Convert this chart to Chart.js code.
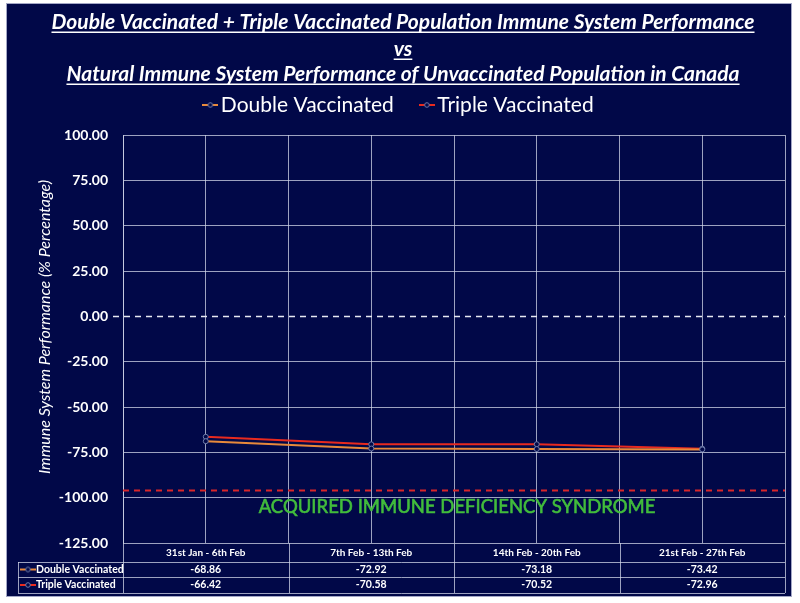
<!DOCTYPE html>
<html>
<head>
<meta charset="utf-8">
<script src="https://cdn.jsdelivr.net/npm/chart.js@4.4.1/dist/chart.umd.min.js"></script>
<style>
  html, body { margin: 0; padding: 0; background: #fff; }
  canvas { display: block; }
</style>
</head>
<body>
<canvas id="chart" width="800" height="603"></canvas>
<script>
// data
const weeks = ['31st Jan - 6th Feb', '7th Feb - 13th Feb', '14th Feb - 20th Feb', '21st Feb - 27th Feb'];
const doubleVaccinated = [-68.86, -72.92, -73.18, -73.42];
const tripleVaccinated = [-66.42, -70.58, -70.52, -72.96];
const seriesNames = ['Double Vaccinated', 'Triple Vaccinated'];
const titleLines = [
    'Double Vaccinated + Triple Vaccinated Population Immune System Performance',
    'vs',
    'Natural Immune System Performance of Unvaccinated Population in Canada'
];
const yTitle = 'Immune System Performance (% Percentage)';
const aidsText = 'ACQUIRED IMMUNE DEFICIENCY SYNDROME';
const aidsLevel = -96;
const aidsTextLevel = -105;

const NAVY = '#010848';
const ORANGE = '#e8893b';
const RED = '#e82a1f';
const GRID = 'rgba(210, 213, 232, 0.75)';
const POINT_BORDER = '#6f7cab';
const FONT = 'Lato';

function makeMarker(color) {
    const c = document.createElement('canvas');
    c.width = 16;
    c.height = 8;
    const g = c.getContext('2d');
    g.strokeStyle = color;
    g.lineWidth = 2;
    g.beginPath();
    g.moveTo(0, 4);
    g.lineTo(16, 4);
    g.stroke();
    g.beginPath();
    g.arc(8, 4, 2.3, 0, Math.PI * 2);
    g.fillStyle = NAVY;
    g.fill();
    g.strokeStyle = POINT_BORDER;
    g.lineWidth = 1;
    g.stroke();
    return c;
}
const markers = [makeMarker(ORANGE), makeMarker(RED)];

const decor = {
    id: 'decor',
    beforeInit(chart) {
        if (!chart.legend) return;
        const fit = chart.legend.fit;
        chart.legend.fit = function () {
            fit.call(this);
            this.height += 9.5;
        };
    },
    beforeDraw(chart) {
        const ctx = chart.ctx;
        ctx.save();
        ctx.fillStyle = '#fff';
        ctx.fillRect(0, 0, chart.width, chart.height);
        ctx.fillStyle = NAVY;
        ctx.fillRect(6, 3, 786, 594);
        ctx.strokeStyle = '#a3a7c6';
        ctx.lineWidth = 1;
        ctx.strokeRect(6.5, 3.5, 785, 593);

        // title, underlined
        const baselines = [29, 56, 81];
        ctx.fillStyle = '#fff';
        ctx.font = 'italic bold 21px ' + FONT;
        ctx.textAlign = 'center';
        ctx.textBaseline = 'alphabetic';
        titleLines.forEach((t, i) => {
            ctx.fillText(t, 403, baselines[i]);
            const w = ctx.measureText(t).width;
            ctx.fillRect(403 - w / 2, baselines[i] + 2.5, w, 1.5);
        });

        // y axis title
        ctx.translate(45, 327);
        ctx.rotate(-Math.PI / 2);
        ctx.font = 'italic 16px ' + FONT;
        ctx.textBaseline = 'middle';
        ctx.fillText(yTitle, 0, 0);
        ctx.restore();
    },
    beforeDatasetsDraw(chart) {
        const {ctx, chartArea: a, scales: {y}} = chart;
        ctx.save();
        ctx.lineWidth = 1.5;
        ctx.setLineDash([6, 5]);
        ctx.strokeStyle = '#e6e8f2';
        let py = Math.round(y.getPixelForValue(0)) + 0.5;
        ctx.beginPath();
        ctx.moveTo(a.left - 10, py);
        ctx.lineTo(a.right, py);
        ctx.stroke();
        ctx.strokeStyle = '#d8262a';
        ctx.lineWidth = 2;
        py = y.getPixelForValue(aidsLevel);
        ctx.beginPath();
        ctx.moveTo(a.left, py);
        ctx.lineTo(a.right, py);
        ctx.stroke();
        ctx.setLineDash([]);
        ctx.fillStyle = '#42bd3c';
        ctx.strokeStyle = '#42bd3c';
        ctx.lineWidth = 0.6;
        ctx.font = '18.5px ' + FONT;
        ctx.textAlign = 'center';
        ctx.textBaseline = 'middle';
        const tx = (a.left + a.right) / 2 + 3;
        const ty = y.getPixelForValue(aidsTextLevel);
        ctx.fillText(aidsText, tx, ty);
        ctx.strokeText(aidsText, tx, ty);
        ctx.restore();
    },
    afterDraw(chart) {
        const {ctx, chartArea: a, scales: {x}} = chart;
        const rows = [a.bottom + 19, a.bottom + 34, a.bottom + 50];
        const step = (a.right - a.left) / weeks.length;
        const tableLeft = 18;
        ctx.save();
        ctx.strokeStyle = GRID;
        ctx.lineWidth = 1;
        ctx.beginPath();
        rows.forEach(r => {
            ctx.moveTo(tableLeft, Math.round(r) + 0.5);
            ctx.lineTo(a.right, Math.round(r) + 0.5);
        });
        for (let i = 0; i <= weeks.length; i++) {
            const px = Math.round(a.left + i * step) + 0.5;
            ctx.moveTo(px, a.bottom);
            ctx.lineTo(px, rows[2]);
        }
        ctx.moveTo(tableLeft + 0.5, rows[0]);
        ctx.lineTo(tableLeft + 0.5, rows[2]);
        ctx.stroke();

        const series = [doubleVaccinated, tripleVaccinated];
        ctx.fillStyle = '#fff';
        ctx.textBaseline = 'middle';
        ctx.font = 'bold 10.5px ' + FONT;
        series.forEach((vals, s) => {
            const cy = (rows[s] + rows[s + 1]) / 2;
            ctx.drawImage(markers[s], tableLeft + 2, cy - 4);
            ctx.textAlign = 'left';
            ctx.fillText(seriesNames[s], tableLeft + 18, cy);
            ctx.textAlign = 'center';
            vals.forEach((v, i) => {
                ctx.fillText(v.toFixed(2), x.getPixelForValue(i), cy);
            });
        });
        ctx.restore();
    }
};

new Chart(document.getElementById('chart'), {
    type: 'line',
    data: {
        labels: weeks,
        datasets: [
            {
                label: seriesNames[0],
                data: doubleVaccinated,
                borderColor: ORANGE,
                borderWidth: 2,
                pointRadius: 2.5,
                pointBackgroundColor: NAVY,
                pointBorderColor: POINT_BORDER,
                pointBorderWidth: 1,
                tension: 0
            },
            {
                label: seriesNames[1],
                data: tripleVaccinated,
                borderColor: RED,
                borderWidth: 2,
                pointRadius: 2.5,
                pointBackgroundColor: NAVY,
                pointBorderColor: POINT_BORDER,
                pointBorderWidth: 1,
                tension: 0
            }
        ]
    },
    options: {
        responsive: false,
        animation: false,
        layout: {
            padding: {left: 19, right: 15, top: 61.5, bottom: 41}
        },
        plugins: {
            title: {display: false},
            tooltip: {enabled: false},
            legend: {
                display: true,
                position: 'top',
                labels: {
                    color: '#fff',
                    font: {family: FONT, size: 21},
                    usePointStyle: true,
                    pointStyleWidth: 0.01,
                    padding: 33,
                    generateLabels(chart) {
                        const items = Chart.defaults.plugins.legend.labels.generateLabels(chart);
                        items.forEach((it, i) => { it.pointStyle = markers[i]; });
                        return items;
                    }
                }
            }
        },
        scales: {
            x: {
                type: 'category',
                offset: true,
                grid: {offset: true, color: GRID, drawTicks: false},
                border: {display: false},
                ticks: {
                    color: '#fff',
                    font: {family: FONT, size: 10, weight: 'bold'},
                    padding: 4,
                    maxRotation: 0,
                    autoSkip: false
                },
                afterFit(s) { s.height = 19; }
            },
            x2: {
                type: 'category',
                labels: weeks,
                display: true,
                position: 'bottom',
                offset: true,
                grid: {offset: false, color: GRID, drawTicks: false},
                border: {display: false},
                ticks: {display: false},
                afterFit(s) { s.height = 0; }
            },
            y: {
                min: -125,
                max: 100,
                ticks: {
                    stepSize: 25,
                    color: '#fff',
                    font: {family: FONT, size: 14, weight: 'bold'},
                    padding: 15,
                    callback: v => v.toFixed(2)
                },
                grid: {
                    color: c => (c.tick && c.tick.value === 0 ? 'transparent' : GRID),
                    drawTicks: false
                },
                border: {display: true, color: GRID},
                afterFit(s) { s.width = 104; }
            }
        }
    },
    plugins: [decor]
});
</script>
</body>
</html>
